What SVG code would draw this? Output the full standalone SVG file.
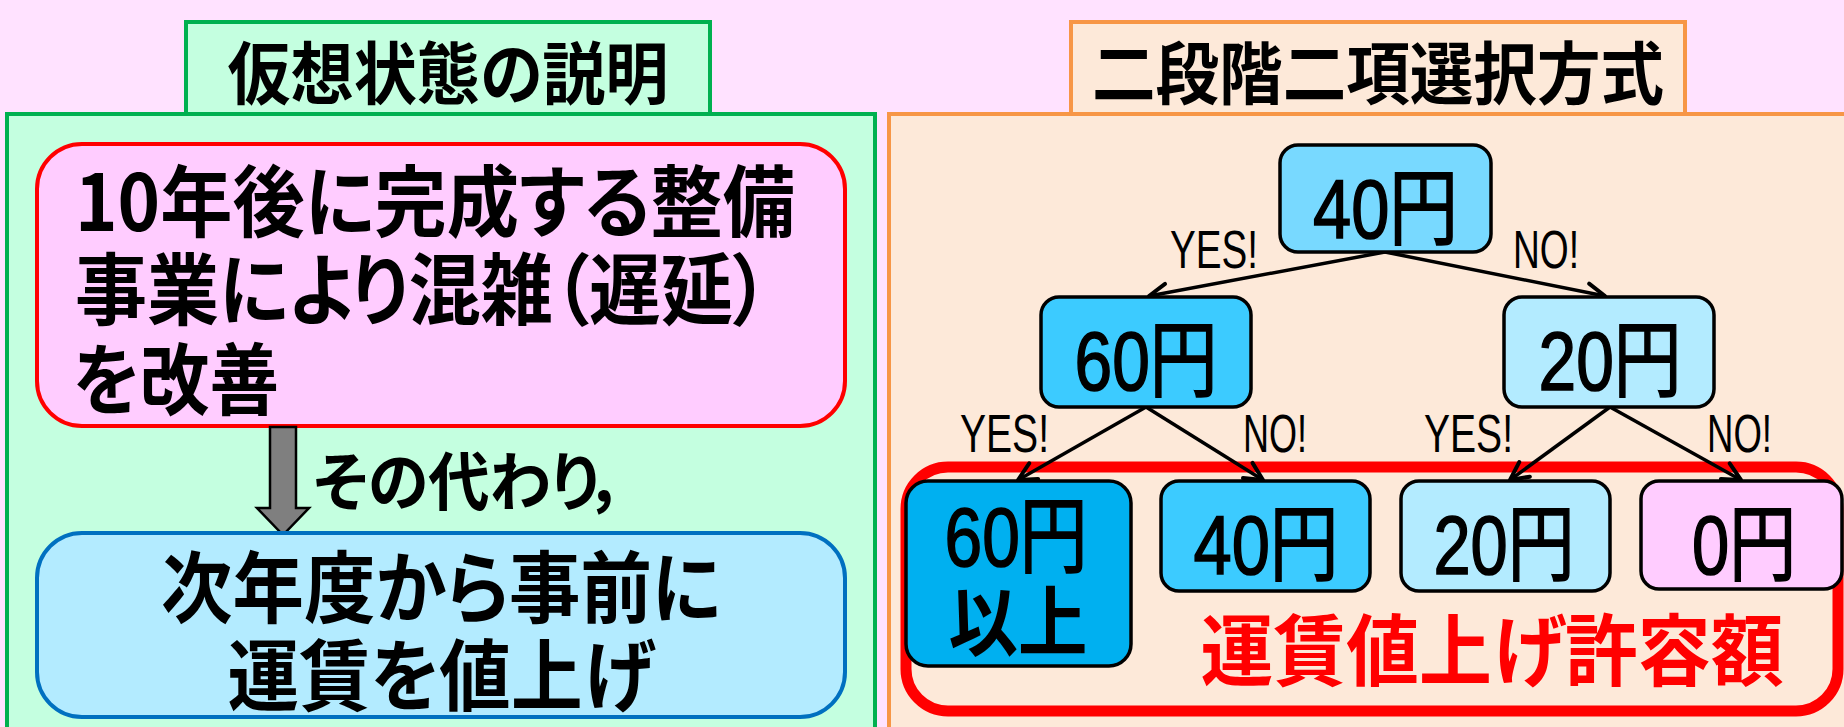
<svg xmlns="http://www.w3.org/2000/svg" width="1844" height="727" viewBox="0 0 1844 727">
<defs>
<style>
.jp{font-family:"Noto Sans CJK JP","Noto Sans CJK SC",sans-serif;font-weight:bold;fill:#000;font-feature-settings:"palt" 1}
.num{font-family:"Liberation Sans","Noto Sans CJK JP",sans-serif;font-weight:normal;fill:#000;stroke:#000;stroke-width:1.6}
.yn{font-family:"Liberation Sans",Arial,sans-serif;font-size:54px;fill:#000}
.node{stroke:#000;stroke-width:3.5}
.conn{stroke:#000;stroke-width:3.5;fill:none}
</style>
<marker id="arr" viewBox="-22 -12 26 24" markerWidth="26" markerHeight="24" refX="0" refY="0" orient="auto" markerUnits="userSpaceOnUse">
<path d="M-18,-9 L0,0 L-18,9" fill="none" stroke="#000" stroke-width="4" stroke-linecap="round" stroke-linejoin="round"/>
</marker>
</defs>
<rect x="0" y="0" width="1844" height="727" fill="#FFE2FF"/>

<g id="left-title">
<rect x="186" y="22" width="524" height="110" fill="#C4FFE0" stroke="#00B050" stroke-width="4"/>
</g>
<g id="left-panel">
<rect x="7" y="114" width="868" height="700" fill="#C4FFE0" stroke="#00B050" stroke-width="4"/>
</g>
<text class="jp" x="448" y="99" font-size="68" text-anchor="middle" textLength="441" lengthAdjust="spacingAndGlyphs">仮想状態の説明</text>

<g id="right-title">
<rect x="1071" y="22" width="614" height="110" fill="#FDE9D9" stroke="#F79646" stroke-width="4"/>
</g>
<g id="right-panel">
<rect x="889" y="114" width="1000" height="700" fill="#FDE9D9" stroke="#F79646" stroke-width="4"/>
</g>
<text class="jp" x="1378" y="99" font-size="68" text-anchor="middle" textLength="572" lengthAdjust="spacingAndGlyphs">二段階二項選択方式</text>

<g id="improve">
<rect x="37" y="144" width="808" height="282" rx="45" fill="#FFCCFF" stroke="#FF0000" stroke-width="4"/>
<text class="jp" x="75" y="231" font-size="78" textLength="720" lengthAdjust="spacingAndGlyphs">10年後に完成する整備</text>
<text class="jp" x="75" y="319" font-size="78" textLength="694" lengthAdjust="spacingAndGlyphs">事業により混雑（遅延）</text>
<text class="jp" x="73" y="409" font-size="78" textLength="206" lengthAdjust="spacingAndGlyphs">を改善</text>
</g>

<g id="connectors-left">
<polygon points="270,427 296,427 296,508 309,508 283,535 257,508 270,508" fill="#7F7F7F" stroke="#000" stroke-width="2.5" stroke-linejoin="miter"/>
</g>
<text class="jp" x="313" y="505" font-size="64" textLength="313" lengthAdjust="spacingAndGlyphs">その代わり，</text>

<g id="raise">
<rect x="37" y="533" width="808" height="184" rx="45" fill="#B3EBFF" stroke="#0070C0" stroke-width="4"/>
<text class="jp" x="441" y="617" font-size="78" text-anchor="middle" textLength="560" lengthAdjust="spacingAndGlyphs">次年度から事前に</text>
<text class="jp" x="441" y="705" font-size="78" text-anchor="middle" textLength="427" lengthAdjust="spacingAndGlyphs">運賃を値上げ</text>
</g>

<g id="allowance">
<rect x="906" y="467" width="932" height="244" rx="42" fill="none" stroke="#FF0000" stroke-width="11"/>
<text class="jp" x="1492" y="680" font-size="78" text-anchor="middle" style="fill:#FF0000" textLength="583" lengthAdjust="spacingAndGlyphs">運賃値上げ許容額</text>
</g>

<g id="connectors">
<line class="conn" x1="1385" y1="252" x2="1149" y2="296" marker-end="url(#arr)"/>
<line class="conn" x1="1385" y1="252" x2="1605" y2="296" marker-end="url(#arr)"/>
<line class="conn" x1="1146" y1="407" x2="1018" y2="480" marker-end="url(#arr)"/>
<line class="conn" x1="1146" y1="407" x2="1263" y2="480" marker-end="url(#arr)"/>
<line class="conn" x1="1610" y1="407" x2="1510" y2="480" marker-end="url(#arr)"/>
<line class="conn" x1="1610" y1="407" x2="1741" y2="480" marker-end="url(#arr)"/>
<text class="yn" x="1170" y="268" textLength="88" lengthAdjust="spacingAndGlyphs">YES!</text>
<text class="yn" x="1513" y="268" textLength="66" lengthAdjust="spacingAndGlyphs">NO!</text>
<text class="yn" x="960" y="452" textLength="89" lengthAdjust="spacingAndGlyphs">YES!</text>
<text class="yn" x="1243" y="452" textLength="64" lengthAdjust="spacingAndGlyphs">NO!</text>
<text class="yn" x="1424" y="452" textLength="89" lengthAdjust="spacingAndGlyphs">YES!</text>
<text class="yn" x="1707" y="452" textLength="65" lengthAdjust="spacingAndGlyphs">NO!</text>
</g>

<g id="root-40">
<rect class="node" x="1280" y="145" width="211" height="107" rx="18" fill="#78D9FF"/>
<text class="num" x="1385.5" y="238" font-size="84" text-anchor="middle" textLength="145" lengthAdjust="spacingAndGlyphs">40円</text>
</g>
<g id="q-60">
<rect class="node" x="1041" y="297" width="210" height="110" rx="18" fill="#3CCBFF"/>
<text class="num" x="1146" y="390" font-size="84" text-anchor="middle" textLength="143" lengthAdjust="spacingAndGlyphs">60円</text>
</g>
<g id="q-20">
<rect class="node" x="1504" y="297" width="210" height="110" rx="18" fill="#B3EBFF"/>
<text class="num" x="1610" y="390" font-size="84" text-anchor="middle" textLength="143" lengthAdjust="spacingAndGlyphs">20円</text>
</g>
<g id="leaf-60plus">
<rect class="node" x="906" y="481" width="225" height="185" rx="22" fill="#00B0F0"/>
<text class="num" x="1016" y="566" font-size="84" text-anchor="middle" textLength="143" lengthAdjust="spacingAndGlyphs">60円</text>
<text class="jp" x="1018" y="650" font-size="76" text-anchor="middle" textLength="139" lengthAdjust="spacingAndGlyphs">以上</text>
</g>
<g id="leaf-40">
<rect class="node" x="1161" y="481" width="209" height="110" rx="18" fill="#3CCBFF"/>
<text class="num" x="1266" y="574" font-size="84" text-anchor="middle" textLength="145" lengthAdjust="spacingAndGlyphs">40円</text>
</g>
<g id="leaf-20">
<rect class="node" x="1401" y="481" width="209" height="110" rx="18" fill="#B3EBFF"/>
<text class="num" x="1504" y="574" font-size="84" text-anchor="middle" textLength="141" lengthAdjust="spacingAndGlyphs">20円</text>
</g>
<g id="leaf-0">
<rect class="node" x="1641" y="481" width="201" height="108" rx="18" fill="#FFCCFF"/>
<text class="num" x="1744" y="574" font-size="84" text-anchor="middle" textLength="104" lengthAdjust="spacingAndGlyphs">0円</text>
</g>
</svg>
